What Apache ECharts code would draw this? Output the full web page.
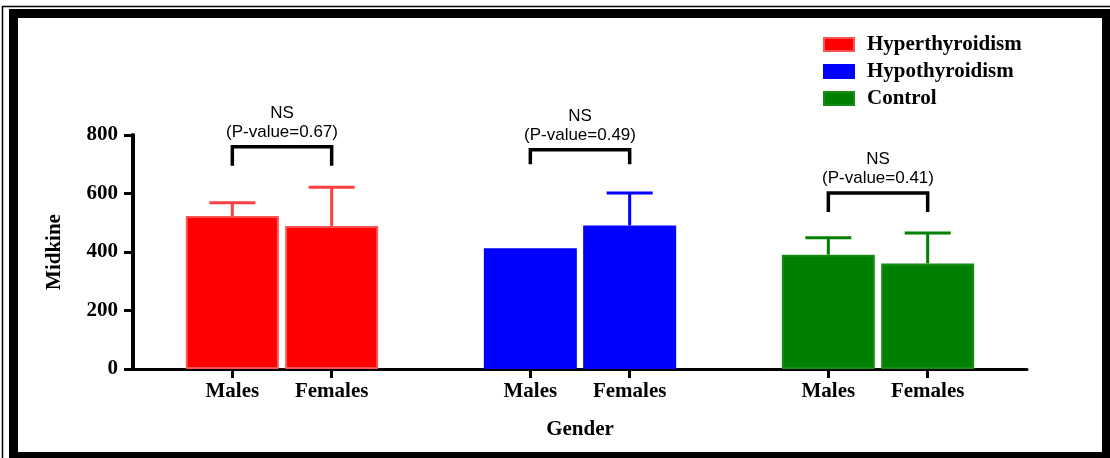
<!DOCTYPE html>
<html>
<head>
<meta charset="utf-8">
<script src="https://cdn.jsdelivr.net/npm/echarts@6/dist/echarts.min.js"></script>
<style>
  html, body { margin: 0; padding: 0; background: #fff; }
  #chart { width: 1110px; height: 458px; }
</style>
</head>
<body>
<div id="chart"></div>
<script>
// categories along the x axis, blanks are the spaces between groups
const categories = ['', 'Males', 'Females', '', 'Males', 'Females', '', 'Males', 'Females', ''];
const groups = ['Hyperthyroidism', 'Hypothyroidism', 'Control'];
const meanMales = [523, 413, 391];
const meanFemales = [489, 491, 361];
const sdMales = [45, 0, 58];
const sdFemales = [132, 111, 104];
const pValues = ['0.67', '0.49', '0.41'];
const bracketTop = [760, 750, 602];
const bracketLeg = [65, 50, 65];

const barColors = ['#ff0000', '#0000ff', '#008000'];
const edgeColors = ['#ff5252', '#0000ff', '#188a18'];
const errColors = ['#ff4040', '#0000ff', '#008000'];
const serif = 'Liberation Serif';

const chart = echarts.init(document.getElementById('chart'));

const maleIdx = g => 1 + 3 * g;
const femaleIdx = g => 2 + 3 * g;

const barSeries = groups.map((name, g) => ({
  name: name,
  type: 'bar',
  barWidth: 93,
  barGap: '-100%',
  itemStyle: { color: barColors[g], borderColor: edgeColors[g], borderWidth: 2 },
  data: categories.map((c, i) => i === maleIdx(g) ? meanMales[g] : i === femaleIdx(g) ? meanFemales[g] : '-')
}));

const errData = [];
groups.forEach((name, g) => {
  errData.push([maleIdx(g), meanMales[g], sdMales[g], g]);
  errData.push([femaleIdx(g), meanFemales[g], sdFemales[g], g]);
});

const bracketData = groups.map((name, g) => [maleIdx(g), femaleIdx(g), bracketTop[g], bracketLeg[g], g]);

const option = {
  animation: false,
  backgroundColor: '#fff',
  graphic: [
    { type: 'rect', shape: { x: 2.5, y: 6.5, width: 1130, height: 470 }, style: { fill: null, stroke: '#000', lineWidth: 1.5 } },
    { type: 'rect', shape: { x: 13.5, y: 13.5, width: 1093, height: 443 }, style: { fill: null, stroke: '#000', lineWidth: 9 } }
  ],
  legend: {
    orient: 'vertical',
    left: 818,
    top: 29,
    itemWidth: 30,
    itemHeight: 13,
    itemGap: 6,
    icon: 'rect',
    data: groups,
    textStyle: { fontFamily: serif, fontWeight: 'bold', fontSize: 21, color: '#000', padding: [0, 0, 0, 8] }
  },
  grid: { left: 133, right: 83, top: 135, bottom: 89 },
  xAxis: {
    type: 'category',
    data: categories,
    boundaryGap: false,
    name: 'Gender',
    nameLocation: 'middle',
    nameGap: 50,
    nameTextStyle: { fontFamily: serif, fontWeight: 'bold', fontSize: 21, color: '#000' },
    axisLine: { lineStyle: { color: '#000', width: 3 } },
    axisTick: { length: 9, lineStyle: { width: 3, color: '#000' }, interval: (i, v) => v !== '' },
    axisLabel: { interval: 0, margin: 12, fontFamily: serif, fontWeight: 'bold', fontSize: 21, color: '#000' }
  },
  yAxis: {
    type: 'value',
    min: 0,
    max: 800,
    interval: 200,
    name: 'Midkine',
    nameLocation: 'middle',
    nameRotate: 90,
    nameGap: 68,
    nameTextStyle: { fontFamily: serif, fontWeight: 'bold', fontSize: 21, color: '#000' },
    axisLine: { show: true, lineStyle: { color: '#000', width: 4 } },
    axisTick: { show: true, length: 9, lineStyle: { width: 3, color: '#000' } },
    axisLabel: { margin: 15, fontFamily: serif, fontWeight: 'bold', fontSize: 21, color: '#000' },
    splitLine: { show: false }
  },
  series: barSeries.concat([
    {
      type: 'custom',
      name: 'error',
      z: 3,
      encode: { x: 0, y: 1 },
      data: errData,
      renderItem: function (params, api) {
        const sd = api.value(2);
        if (!sd) return null;
        const g = api.value(3);
        const base = api.coord([api.value(0), api.value(1)]);
        const top = api.coord([api.value(0), api.value(1) + sd]);
        const style = { stroke: errColors[g], lineWidth: 3 };
        return {
          type: 'group',
          children: [
            { type: 'line', shape: { x1: base[0], y1: base[1], x2: top[0], y2: top[1] }, style: style },
            { type: 'line', shape: { x1: top[0] - 23, y1: top[1], x2: top[0] + 23, y2: top[1] }, style: style }
          ]
        };
      }
    },
    {
      type: 'custom',
      name: 'brackets',
      z: 4,
      encode: { x: 0, y: 2 },
      data: bracketData,
      renderItem: function (params, api) {
        const y = api.value(2);
        const leg = api.value(3);
        const a = api.coord([api.value(0), y]);
        const b = api.coord([api.value(1), y]);
        const aLow = api.coord([api.value(0), y - leg]);
        const g = api.value(4);
        return {
          type: 'group',
          children: [
            {
              type: 'polyline',
              shape: { points: [[a[0], aLow[1]], [a[0], a[1]], [b[0], b[1]], [b[0], aLow[1]]] },
              style: { stroke: '#000', lineWidth: 3.5, fill: null }
            },
            {
              type: 'text',
              style: {
                text: 'NS\n(P-value=' + pValues[g] + ')',
                x: (a[0] + b[0]) / 2,
                y: a[1] - 5,
                align: 'center',
                verticalAlign: 'bottom',
                font: '17px "Liberation Sans", Arial, sans-serif',
                lineHeight: 19,
                fill: '#000'
              }
            }
          ]
        };
      }
    }
  ])
};

chart.setOption(option);
</script>
</body>
</html>
